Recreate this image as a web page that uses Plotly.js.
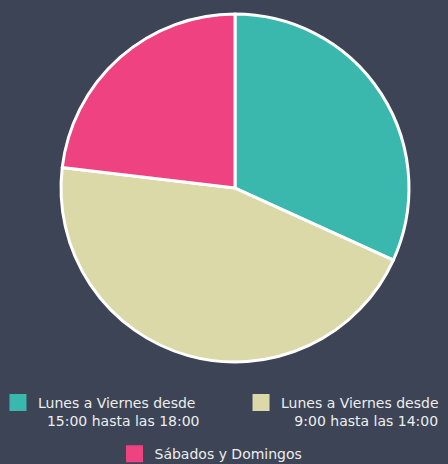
<!DOCTYPE html>
<html><head><meta charset="utf-8">
<script src="https://cdn.plot.ly/plotly-3.0.1.min.js"></script>
<style>html,body{margin:0;padding:0;background:#3c4456;}</style>
</head><body>
<div id="chart" style="width:448px;height:464px;"></div>
<script>
const labels = [
  "Lunes a Viernes desde<br>\u00a0\u00a015:00 hasta las 18:00",
  "Lunes a Viernes desde<br>\u00a0\u00a0\u00a09:00 hasta las 14:00",
  "Sábados y Domingos"
];
const values = [55, 78, 40];
const colors = ["#3bb8ae", "#dcd9a9", "#ef4281"];

const legendIds = ["legend", "legend2", "legend3"];
const legendPos = [{x: -0.0045, y: 0.166}, {x: 0.538, y: 0.166}, {x: 0.2556, y: 0.0555}];

const cx = 235 / 448, cy = 1 - 188 / 464;
const traces = [];
// legend-only tiny pies (hidden behind the main pie), one per label
labels.forEach(function (lab, i) {
  traces.push({
    type: "pie",
    labels: [lab], values: [values[i]],
    marker: {colors: [colors[i]], line: {color: [colors[i]], width: 5}},
    textinfo: "none", hoverinfo: "skip", sort: false,
    domain: {x: [cx - 0.0005, cx + 0.0005], y: [cy - 0.0005, cy + 0.0005]},
    legend: legendIds[i], showlegend: true
  });
});
traces.push({
  type: "pie",
  labels: labels,
  values: values,
  sort: false,
  direction: "clockwise",
  rotation: 0,
  textinfo: "none",
  hoverinfo: "label+value",
  showlegend: false,
  marker: {colors: colors, line: {color: "#ffffff", width: 3}},
  domain: {x: [0.1362, 0.9129], y: [0.2198, 0.9698]}
});

const layout = {
  width: 448, height: 464,
  paper_bgcolor: "#3c4456",
  plot_bgcolor: "#3c4456",
  margin: {l: 0, r: 0, t: 0, b: 0, autoexpand: false},
  showlegend: true
};
legendIds.forEach(function (id, i) {
  layout[id] = {
    xref: "paper", yref: "paper",
    x: legendPos[i].x, xanchor: "left",
    y: legendPos[i].y, yanchor: "top",
    valign: "top",
    bgcolor: "rgba(0,0,0,0)",
    font: {family: "DejaVu Sans", size: 14, color: "#eeeeee"}
  };
});

Plotly.newPlot("chart", traces, layout, {displayModeBar: false, staticPlot: true});
</script>
</body></html>
